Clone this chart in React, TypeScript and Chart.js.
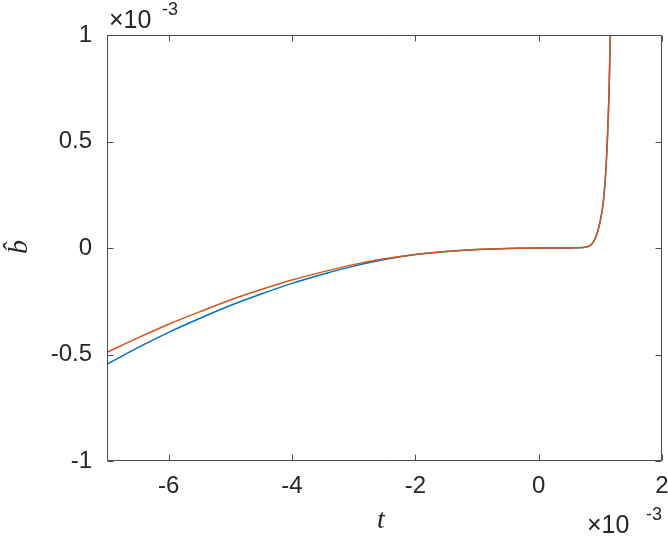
import React, { useEffect, useRef } from "react";
import { Chart, registerables } from "chart.js";
Chart.register(...registerables);

// t in units of 1e-3, b-hat in units of 1e-3
const tValues = [-7, -6.5, -6, -5.5, -5, -4.5, -4, -3.5, -3, -2.5, -2, -1.5, -1, -0.5, 0, 0.3, 0.5, 0.6, 0.7, 0.75, 0.8, 0.85, 0.9, 0.95, 1.0, 1.05, 1.1, 1.14, 1.163, 1.19];
const blueValues = [-0.546, -0.468, -0.396, -0.331, -0.27, -0.216, -0.166, -0.123, -0.085, -0.054, -0.031, -0.016, -0.007, -0.002, 0, 0, 0.0002, 0.0006, 0.002, 0.004, 0.007, 0.015, 0.035, 0.07, 0.13, 0.22, 0.42, 0.72, 1.0, 1.42];
const redValues = [-0.49, -0.422, -0.358, -0.3, -0.244, -0.195, -0.15, -0.112, -0.078, -0.051, -0.03, -0.016, -0.007, -0.002, 0, 0, 0.0002, 0.0006, 0.002, 0.004, 0.007, 0.015, 0.035, 0.07, 0.13, 0.22, 0.42, 0.72, 1.0, 1.42];
const xTicks = [-6, -4, -2, 0, 2];
const yTicks = [-1, -0.5, 0, 0.5, 1];
const xMin = -7, xMax = 2, yMin = -1, yMax = 1;

const FONT = "'Liberation Sans', Arial, Helvetica, sans-serif";
const SERIF = "'Liberation Serif', 'DejaVu Serif', serif";
const TXT = "#262626";

export default function App() {
  const ref = useRef<HTMLCanvasElement>(null);
  useEffect(() => {
    const boxPlugin = {
      id: "matlabBox",
      afterDatasetsDraw(chart: any) {
        const { ctx, chartArea: a, scales } = chart;
        ctx.save();
        ctx.strokeStyle = "#4d4d4d";
        ctx.lineWidth = 1;
        const L = Math.round(a.left) + 0.5, R = Math.round(a.right) - 0.5;
        const T = Math.round(a.top) + 0.5, B = Math.round(a.bottom) - 0.5;
        ctx.beginPath();
        ctx.rect(L, T, R - L, B - T);
        const tl = 6;
        for (const v of xTicks) {
          const px = Math.round(scales.x.getPixelForValue(v)) + 0.5;
          ctx.moveTo(px, B); ctx.lineTo(px, B - tl);
          ctx.moveTo(px, T); ctx.lineTo(px, T + tl);
        }
        for (const v of yTicks) {
          const py = Math.round(scales.y.getPixelForValue(v)) + 0.5;
          ctx.moveTo(L, py); ctx.lineTo(L + tl, py);
          ctx.moveTo(R, py); ctx.lineTo(R - tl, py);
        }
        ctx.stroke();
        // exponent labels
        ctx.fillStyle = TXT;
        ctx.textBaseline = "alphabetic";
        ctx.textAlign = "left";
        ctx.font = `25px ${FONT}`;
        ctx.fillText("\u00d710", 109, 28);
        ctx.font = `18px ${FONT}`;
        ctx.fillText("-3", 162, 15);
        ctx.font = `25px ${FONT}`;
        ctx.fillText("\u00d710", 587, 533);
        ctx.font = `18px ${FONT}`;
        ctx.fillText("-3", 646, 520);
        // axis labels
        ctx.font = `italic 28px ${SERIF}`;
        ctx.textAlign = "center";
        ctx.textBaseline = "middle";
        ctx.fillText("t", 381, 521);
        ctx.save();
        ctx.translate(20, 247);
        ctx.rotate(-Math.PI / 2);
        ctx.fillText("b\u0302", 0, 0);
        ctx.restore();
        ctx.restore();
      },
    };

    const chart = new Chart(ref.current!, {
      type: "line",
      data: {
        datasets: [
          {
            data: tValues.map((t, i) => ({ x: t, y: blueValues[i] })),
            borderColor: "#0072BD",
            borderWidth: 1.5,
            pointRadius: 0,
            cubicInterpolationMode: "monotone",
            order: 1,
          },
          {
            data: tValues.map((t, i) => ({ x: t, y: redValues[i] })),
            borderColor: "#D95319",
            borderWidth: 1.5,
            pointRadius: 0,
            cubicInterpolationMode: "monotone",
            order: 0,
          },
        ],
      },
      options: {
        animation: false,
        responsive: false,
        devicePixelRatio: 1,
        layout: { padding: { left: 0, top: 35, right: 6, bottom: 0 } },
        plugins: { legend: { display: false }, tooltip: { enabled: false } },
        scales: {
          x: {
            type: "linear",
            min: xMin,
            max: xMax,
            afterBuildTicks: (s: any) => { s.ticks = xTicks.map((v) => ({ value: v })); },
            afterFit: (s: any) => { s.height = 76; s.paddingLeft = 0; s.paddingRight = 0; },
            border: { display: false },
            grid: { display: false, drawTicks: false },
            ticks: {
              color: TXT,
              font: { family: FONT, size: 24 },
              padding: 11,
              maxRotation: 0,
              callback: (v: any) => String(v),
            },
          },
          y: {
            type: "linear",
            min: yMin,
            max: yMax,
            afterBuildTicks: (s: any) => { s.ticks = yTicks.map((v) => ({ value: v })); },
            afterFit: (s: any) => { s.width = 107; s.paddingTop = 0; s.paddingBottom = 0; },
            border: { display: false },
            grid: { display: false, drawTicks: false },
            ticks: {
              color: TXT,
              font: { family: FONT, size: 24 },
              padding: 15,
              callback: (v: any) => String(v),
            },
          },
        },
      },
      plugins: [boxPlugin],
    } as any);
    return () => chart.destroy();
  }, []);

  return (
    <div style={{ position: "absolute", left: 0, top: 0, width: 668, height: 537, background: "#fff" }}>
      <canvas ref={ref} width={668} height={537} style={{ width: 668, height: 537 }} />
    </div>
  );
}
